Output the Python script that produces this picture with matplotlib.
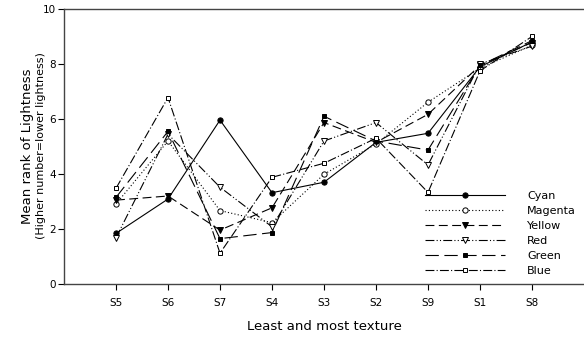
import matplotlib.pyplot as plt
import numpy as np

samples = ["S5", "S6", "S7", "S4", "S3", "S2", "S9", "S1", "S8"]
cyan = [1.84, 3.09, 5.96, 3.32, 3.70, 5.15, 5.48, 7.90, 8.80]
magenta = [2.91, 5.20, 2.67, 2.23, 3.99, 5.09, 6.61, 7.85, 8.68]
yellow = [3.05, 3.20, 1.96, 2.77, 5.87, 5.15, 6.17, 7.95, 8.78]
red = [1.68, 5.45, 3.52, 2.08, 5.20, 5.87, 4.33, 8.00, 8.65]
green = [3.15, 5.55, 1.65, 1.87, 6.10, 5.20, 4.87, 7.95, 8.85]
blue = [3.48, 6.78, 1.12, 3.88, 4.39, 5.30, 3.33, 7.75, 9.00]

x = np.arange(1, len(samples) + 1)

fig = plt.figure(figsize=(5.84, 3.38), dpi=100)
ax = fig.add_axes([64 / 584, 54 / 338, 520 / 584, 275 / 338])

kw = dict(color="black", lw=0.8, mew=0.7)
ax.plot(x, cyan, marker="o", ms=3.8, ls="-", label="Cyan", **kw)
ax.plot(x, magenta, marker="o", ms=3.8, mfc="white", ls=(0, (1, 2)), label="Magenta", **kw)
ax.plot(x, yellow, marker="v", ms=3.8, ls=(0, (8, 4)), label="Yellow", **kw)
ax.plot(x, red, marker="v", ms=3.8, mfc="white", ls=(0, (8, 2, 1, 2, 1, 2)), label="Red", **kw)
ax.plot(x, green, marker="s", ms=3.3, ls=(0, (12, 5)), label="Green", **kw)
ax.plot(x, blue, marker="s", ms=3.3, mfc="white", ls=(0, (8, 2, 1, 2)), label="Blue", **kw)

ax.set_xlim(0, 10)
ax.set_ylim(0, 10)
ax.set_xticks(x)
ax.set_xticklabels(samples, fontsize=7.5)
ax.set_yticks([0, 2, 4, 6, 8, 10])
ax.tick_params(axis="y", labelsize=7.5, length=4, width=0.8, pad=2)
ax.tick_params(axis="x", length=4, width=0.8, pad=6)
ax.spines["right"].set_visible(False)
for s in ["top", "left", "bottom"]:
    ax.spines[s].set_linewidth(1.0)
    ax.spines[s].set_color("#444444")

ax.legend(loc="lower right", bbox_to_anchor=(1.0, 0.0), frameon=False,
          fontsize=8, handlelength=7.2, handletextpad=2.0, labelspacing=0.45,
          borderaxespad=0.3)

fig.text(28 / 584, 1 - 146 / 338, "Mean rank of Lightness", rotation=90,
         ha="center", va="center", fontsize=9.5)
fig.text(41 / 584, 1 - 146 / 338, "(Higher number=lower lightness)", rotation=90,
         ha="center", va="center", fontsize=8)
fig.text(324 / 584, 1 - 327 / 338, "Least and most texture", ha="center",
         va="center", fontsize=9.5)

fig.savefig("out.png", dpi=100)
